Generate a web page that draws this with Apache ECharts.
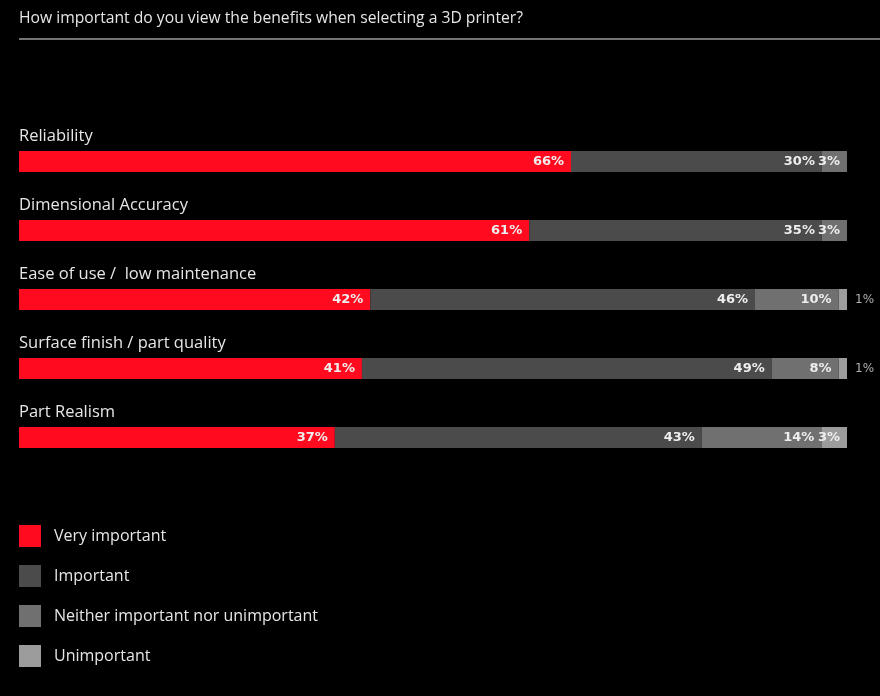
<!DOCTYPE html>
<html>
<head>
<meta charset="utf-8">
<script src="https://cdn.jsdelivr.net/npm/echarts@6/dist/echarts.min.js"></script>
<style>
html,body{margin:0;padding:0;background:#000;}
#chart{width:880px;height:696px;}
</style>
</head>
<body>
<div id="chart"></div>
<script>
const title = 'How important do you view the benefits when selecting a 3D printer?';
const categories = ['Reliability', 'Dimensional Accuracy', 'Ease of use /  low maintenance', 'Surface finish / part quality', 'Part Realism'];
const seriesNames = ['Very important', 'Important', 'Neither important nor unimportant', 'Unimportant'];
const veryImportant = [66, 61, 42, 41, 37];
const important = [30, 35, 46, 49, 43];
const neither = [3, 3, 10, 8, 14];
const unimportant = [0, 0, 1, 1, 3];
const colors = ['#ff0a1e', '#4b4b4b', '#707070', '#9c9c9c'];

const allValues = [veryImportant, important, neither, unimportant];
const rowTotals = categories.map((c, i) => allValues.reduce((s, arr) => s + arr[i], 0));

const chart = echarts.init(document.getElementById('chart'));
const FONT = '"Open Sans", "Noto Sans", sans-serif';
const NUMFONT = '"DejaVu Sans", "Open Sans", sans-serif';

const series = allValues.map((arr, si) => ({
  name: seriesNames[si],
  type: 'bar',
  stack: 'total',
  barWidth: 21,
  itemStyle: { color: colors[si] },
  data: arr.map((v, i) => {
    const small = v > 0 && v < 2;
    return {
      value: v / rowTotals[i] * 100,
      raw: v,
      label: small
        ? { position: 'right', distance: 8, color: '#b0b0b0', fontWeight: 'normal', fontSize: 12 }
        : {}
    };
  }),
  label: {
    show: true,
    position: 'insideRight',
    distance: 7,
    color: '#eeeeee',
    fontWeight: 'bold',
    fontSize: 13,
    fontFamily: NUMFONT,
    formatter: p => (p.data.raw > 0 ? p.data.raw + '%' : '')
  }
}));

chart.setOption({
  backgroundColor: '#000000',
  animation: false,
  title: {
    text: title,
    left: 14,
    top: 6,
    textStyle: { color: '#e6e6e6', fontSize: 15.7, fontWeight: 'normal', fontFamily: FONT }
  },
  graphic: [{
    type: 'line',
    shape: { x1: 19, y1: 39, x2: 880, y2: 39 },
    style: { stroke: '#e6e6e6', lineWidth: 1.2 }
  }],
  legend: {
    orient: 'vertical',
    left: 14,
    top: 520,
    itemWidth: 22,
    itemHeight: 22,
    itemGap: 18,
    icon: 'rect',
    textStyle: { color: '#e6e6e6', fontSize: 16, fontFamily: FONT, padding: [0, 0, 0, 8] },
    data: seriesNames
  },
  grid: { left: 19, right: 33, top: 127, bottom: 224, containLabel: false },
  xAxis: {
    type: 'value',
    min: 0,
    max: 100,
    show: false
  },
  yAxis: {
    type: 'category',
    inverse: true,
    data: categories,
    axisLine: { show: false },
    axisTick: { show: false },
    axisLabel: {
      inside: true,
      margin: 0,
      verticalAlign: 'bottom',
      padding: [0, 0, 17, 0],
      color: '#e6e6e6',
      fontSize: 16.5,
      fontFamily: FONT
    }
  },
  series: series
});
</script>
</body>
</html>
